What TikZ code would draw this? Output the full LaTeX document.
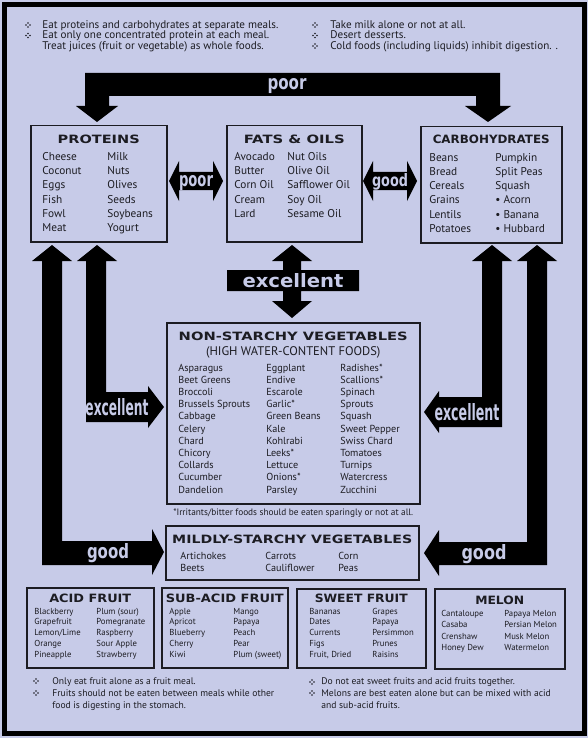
\documentclass[tikz,border=0pt]{standalone}
\usepackage{fontspec}
\setmainfont{PT Sans}
\newfontfamily\hdfont{DejaVu Sans}
\newfontfamily\arfont{DejaVu Sans}
\usetikzlibrary{positioning}

\definecolor{lav}{RGB}{199,203,232}
\definecolor{ink}{RGB}{28,28,34}

\newcommand\hdbox[2]{\resizebox{#1pt}{8.5pt}{\hdfont\bfseries #2}}
\newcommand\arlab[3]{\resizebox{#1pt}{#2pt}{\arfont\bfseries #3}}

\tikzset{
  blk/.style={fill=black},
  box/.style={draw=ink, line width=1.5pt, inner sep=0pt, anchor=north west},
  hd/.style={text=ink, inner sep=0pt, anchor=base},
  item/.style={font=\fontsize{11.3}{12}\selectfont, text=ink, inner sep=0pt, anchor=base west},
  vitem/.style={item, font=\fontsize{10.2}{12}\selectfont},
  fitem/.style={item, font=\fontsize{8.7}{10}\selectfont},
  note/.style={item, font=\fontsize{11.1}{12}\selectfont},
  fnote/.style={item, font=\fontsize{9.6}{12}\selectfont},
  lbl/.style={text=lav, inner sep=0pt, anchor=base},
  fourdots/.pic={\fill[ink] (0,-2) circle (0.9) (0,2) circle (0.9) (-2,0) circle (0.9) (2,0) circle (0.9);}
}

\begin{document}
\begin{tikzpicture}[x=1pt, y=-1pt, thick]
\useasboundingbox (0,0) rectangle (588,738);
\fill[lav] (0,0) rectangle (588,738);
\draw[line width=5pt] (4.5,4.5) rectangle (584.5,733.5);

\foreach \bx/\by in {28/25, 28/35.5, 315/25, 315/35.5, 315/46, 36/681, 36/693, 312/682, 312/693}
  \pic at (\bx,\by) {fourdots};
\node[note] (tl1) at (42,28.5) {Eat proteins and carbohydrates at separate meals.};
\node[note] (tl2) at (42,39) {Eat only one concentrated protein at each meal.};
\node[note] (tl3) at (42,49.5) {Treat juices (fruit or vegetable) as whole foods.};
\node[note] (tr1) at (330,28.5) {Take milk alone or not at all.};
\node[note] (tr2) at (330,39) {Desert desserts.};
\node[note] (tr3) at (330,49.5) {Cold foods (including liquids) inhibit digestion. .};

\node[box, minimum width=136pt, minimum height=116pt] (prot) at (30,125) {};
\node[box, minimum width=135pt, minimum height=116pt] (fats) at (226,125) {};
\node[box, minimum width=141pt, minimum height=116pt] (carb) at (420,126) {};
\node[box, minimum width=253pt, minimum height=181pt] (nsv) at (166,322) {};
\node[box, minimum width=253pt, minimum height=54pt] (msv) at (165,525) {};
\node[box, minimum width=127pt, minimum height=80pt] (acid) at (26,587) {};
\node[box, minimum width=126pt, minimum height=80pt] (sub) at (161,587) {};
\node[box, minimum width=129pt, minimum height=79pt] (sweet) at (296,588) {};
\node[box, minimum width=130pt, minimum height=80pt] (melon) at (434,588) {};

\node[hd] (protT) at ([yshift=-18.5pt]prot.north) {\hdbox{82}{PROTEINS}};
\node[hd] (fatsT) at ([yshift=-18.5pt]fats.north) {\hdbox{101}{FATS \& OILS}};
\node[hd] (carbT) at ([yshift=-18pt]carb.north) {\hdbox{117}{CARBOHYDRATES}};
\node[hd] (nsvT) at ([yshift=-18pt]nsv.north) {\hdbox{229}{NON-STARCHY VEGETABLES}};
\node[hd, font=\fontsize{12.5}{14}\selectfont, anchor=north, below=6pt of nsvT] (nsvS) {(HIGH WATER-CONTENT FOODS)};
\node[hd] (msvT) at ([yshift=-18pt]msv.north) {\hdbox{240}{MILDLY-STARCHY VEGETABLES}};
\node[hd] (acidT) at ([yshift=-15pt]acid.north) {\hdbox{82}{ACID FRUIT}};
\node[hd] (subT) at ([yshift=-15pt]sub.north) {\hdbox{118}{SUB-ACID FRUIT}};
\node[hd] (sweetT) at ([yshift=-14pt]sweet.north) {\hdbox{93}{SWEET FRUIT}};
\node[hd] (melonT) at ([yshift=-16pt]melon.north) {\hdbox{49}{MELON}};

\foreach \t [count=\i] in {Cheese,Coconut,Eggs,Fish,Fowl,Meat}
  \node[item] (protA\i) at (42,{160.5+(\i-1)*14.25}) {\t};
\foreach \t [count=\i] in {Milk,Nuts,Olives,Seeds,Soybeans,Yogurt}
  \node[item] (protB\i) at (107,{160.5+(\i-1)*14.25}) {\t};
\foreach \t [count=\i] in {Avocado,Butter,Corn Oil,Cream,Lard}
  \node[item] (fatsA\i) at (234,{160.5+(\i-1)*14.25}) {\t};
\foreach \t [count=\i] in {Nut Oils,Olive Oil,Safflower Oil,Soy Oil,Sesame Oil}
  \node[item] (fatsB\i) at (287,{160.5+(\i-1)*14.25}) {\t};
\foreach \t [count=\i] in {Beans,Bread,Cereals,Grains,Lentils,Potatoes}
  \node[item] (carbA\i) at (429,{161+(\i-1)*14.25}) {\t};
\foreach \t [count=\i] in {Pumpkin,Split Peas,Squash,{\textbullet\ Acorn},{\textbullet\ Banana},{\textbullet\ Hubbard}}
  \node[item] (carbB\i) at (495,{161+(\i-1)*14.25}) {\t};

\foreach \t [count=\i] in {Asparagus,Beet Greens,Broccoli,Brussels Sprouts,Cabbage,Celery,Chard,Chicory,Collards,Cucumber,Dandelion}
  \node[vitem] (nsvA\i) at (178,{371+(\i-1)*12.2}) {\t};
\foreach \t [count=\i] in {Eggplant,Endive,Escarole,Garlic*,Green Beans,Kale,Kohlrabi,Leeks*,Lettuce,Onions*,Parsley}
  \node[vitem] (nsvB\i) at (266,{371+(\i-1)*12.2}) {\t};
\foreach \t [count=\i] in {Radishes*,Scallions*,Spinach,Sprouts,Squash,Sweet Pepper,Swiss Chard,Tomatoes,Turnips,Watercress,Zucchini}
  \node[vitem] (nsvC\i) at (340,{371+(\i-1)*12.2}) {\t};
\node[hd, font=\fontsize{9.3}{10}\selectfont, anchor=north, below=4pt of nsv] (foot) {*Irritants/bitter foods should be eaten sparingly or not at all.};

\foreach \t [count=\i] in {Artichokes,Beets}
  \node[vitem] (msvA\i) at (180,{559+(\i-1)*12}) {\t};
\foreach \t [count=\i] in {Carrots,Cauliflower}
  \node[vitem] (msvB\i) at (265,{559+(\i-1)*12}) {\t};
\foreach \t [count=\i] in {Corn,Peas}
  \node[vitem] (msvC\i) at (338,{559+(\i-1)*12}) {\t};

\foreach \t [count=\i] in {Blackberry,Grapefruit,Lemon/Lime,Orange,Pineapple}
  \node[fitem] (acidA\i) at (34,{614+(\i-1)*10.9}) {\t};
\foreach \t [count=\i] in {Plum (sour),Pomegranate,Raspberry,Sour Apple,Strawberry}
  \node[fitem] (acidB\i) at (96,{614+(\i-1)*10.9}) {\t};
\foreach \t [count=\i] in {Apple,Apricot,Blueberry,Cherry,Kiwi}
  \node[fitem] (subA\i) at (169,{614+(\i-1)*10.9}) {\t};
\foreach \t [count=\i] in {Mango,Papaya,Peach,Pear,Plum (sweet)}
  \node[fitem] (subB\i) at (233,{614+(\i-1)*10.9}) {\t};
\foreach \t [count=\i] in {Bananas,Dates,Currents,Figs,{Fruit, Dried}}
  \node[fitem] (sweetA\i) at (309,{614+(\i-1)*10.9}) {\t};
\foreach \t [count=\i] in {Grapes,Papaya,Persimmon,Prunes,Raisins}
  \node[fitem] (sweetB\i) at (372,{614+(\i-1)*10.9}) {\t};
\foreach \t [count=\i] in {Cantaloupe,Casaba,Crenshaw,Honey Dew}
  \node[fitem] (melonA\i) at (441,{616+(\i-1)*11.6}) {\t};
\foreach \t [count=\i] in {Papaya Melon,Persian Melon,Musk Melon,Watermelon}
  \node[fitem] (melonB\i) at (504,{616+(\i-1)*11.6}) {\t};

\node[fnote] (bl1) at (52,684) {Only eat fruit alone as a fruit meal.};
\node[fnote] (bl2) at (52,696) {Fruits should not be eaten between meals while other};
\node[fnote] (bl3) at (52,708.5) {food is digesting in the stomach.};
\node[fnote] (br1) at (321,684) {Do not eat sweet fruits and acid fruits together.};
\node[fnote] (br2) at (321,696) {Melons are best eaten alone but can be mixed with acid};
\node[fnote] (br3) at (321,708.5) {and sub-acid fruits.};

\fill[blk] (85,73) -- (500,73) -- (500,106) -- (511,106) -- (488,122) -- (465,106) -- (476,106) -- (476,96)
  -- (109,96) -- (109,106) -- (118,106) -- (97,122) -- (76,106) -- (85,106) -- cycle;
\fill[blk] (169,181) -- (179,161) -- (179,172) -- (213,172) -- (213,161) -- (223,181) -- (213,201) -- (213,190)
  -- (179,190) -- (179,201) -- cycle;
\fill[blk] (363,181) -- (373,161) -- (373,172) -- (407,172) -- (407,161) -- (417,181) -- (407,201) -- (407,190)
  -- (373,190) -- (373,201) -- cycle;
\fill[blk] (292,245) -- (312,261) -- (301,261) -- (301,270) -- (359,270) -- (359,291) -- (301,291) -- (301,301)
  -- (312,301) -- (292,318) -- (272,301) -- (283,301) -- (283,291) -- (227,291) -- (227,270) -- (283,270)
  -- (283,261) -- (272,261) -- cycle;
\fill[blk] (52,245) -- (72,261) -- (62,261) -- (62,541) -- (152,541) -- (152,529) -- (164,552) -- (152,575)
  -- (152,565) -- (42,565) -- (42,261) -- (32,261) -- cycle;
\fill[blk] (97,245) -- (117,261) -- (106,261) -- (106,392) -- (148,392) -- (148,386) -- (164,407) -- (148,428)
  -- (148,422) -- (86,422) -- (86,261) -- (77,261) -- cycle;
\fill[blk] (492,245) -- (512,261) -- (502,261) -- (502,427) -- (439,427) -- (439,433) -- (424,412) -- (439,391)
  -- (439,397) -- (482,397) -- (482,261) -- (472,261) -- cycle;
\fill[blk] (537,245) -- (557,261) -- (547,261) -- (547,565) -- (439,565) -- (439,576) -- (424,553) -- (439,530)
  -- (439,542) -- (527,542) -- (527,261) -- (517,261) -- cycle;

\node[lbl] (poorTop) at (287,90) {\arlab{39}{11}{poor}};
\node[lbl] (poorMid) at (196,186.5) {\arlab{34}{11}{poor}};
\node[lbl] (goodMid) at (390,186) {\arlab{36}{13}{good}};
\node[lbl] (excMid) at (293,287.5) {\arlab{101}{14}{excellent}};
\node[lbl] (excL) at (117,415.5) {\arlab{63}{17}{excellent}};
\node[lbl] (excR) at (467,420.5) {\arlab{65}{17}{excellent}};
\node[lbl] (goodL) at (108,558.5) {\arlab{42}{15}{good}};
\node[lbl] (goodR) at (484,559) {\arlab{45}{15}{good}};
\end{tikzpicture}
\end{document}
